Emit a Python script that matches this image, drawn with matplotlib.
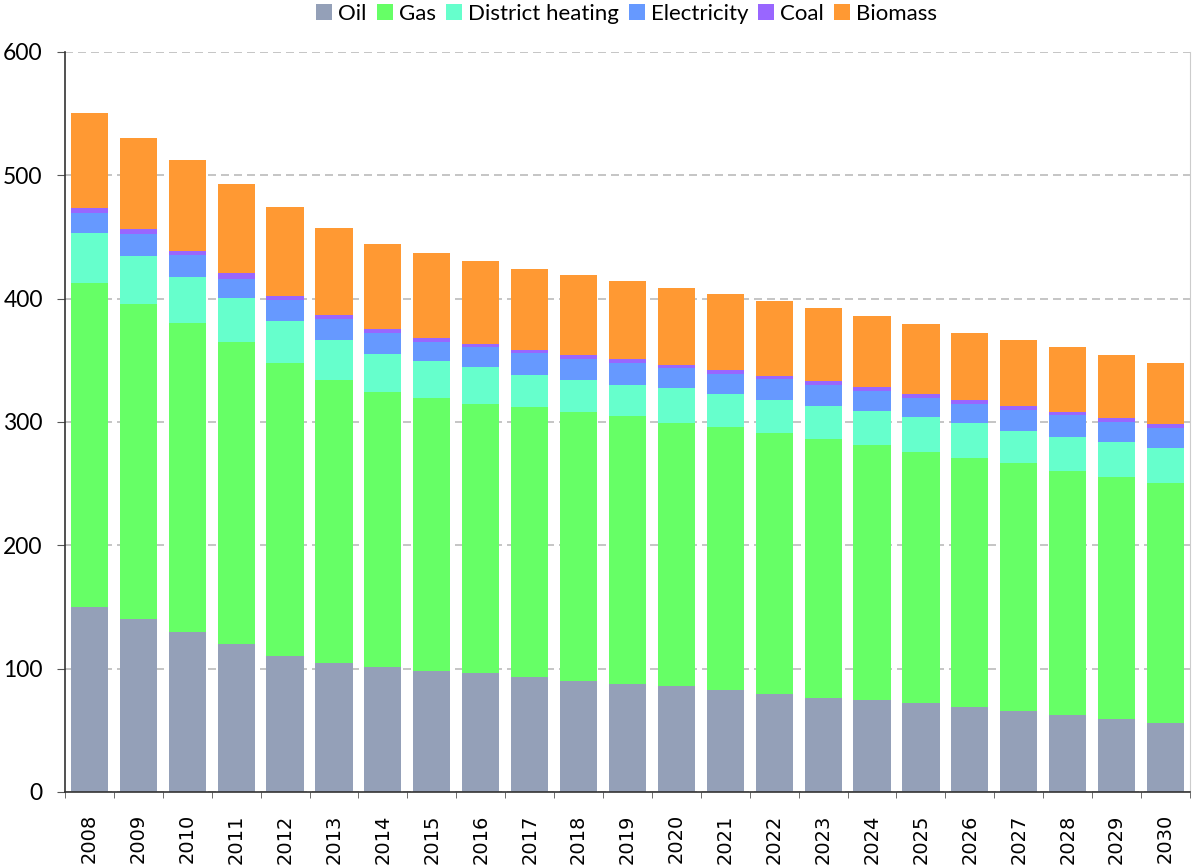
import matplotlib
matplotlib.use("Agg")
import matplotlib.pyplot as plt
import numpy as np

years = list(range(2008, 2031))

oil = [150, 140, 130, 120, 110, 104.5, 101.5, 98, 96.5, 93, 90, 87.5,
       86, 82.5, 79.5, 76, 74.5, 72, 69, 65.5, 62.5, 59, 56]
gas = [262.5, 255.5, 250, 245, 238, 229.5, 223, 221.5, 218, 219, 218, 217.5,
       213, 213.5, 211.5, 210, 207, 203.5, 202, 201.5, 198, 196.5, 194.5]
district_heating = [40.5, 39, 37.5, 35.5, 34, 32.5, 30.5, 30, 30, 26, 26, 25,
                    28.5, 26.5, 27, 27, 27.5, 28.5, 28, 25.5, 27.5, 28.5, 28.5]
electricity = [16.5, 18, 18, 15.5, 17, 17, 17, 15.5, 16.5, 18, 17, 18,
               16.5, 16.5, 17, 17, 16, 15.5, 15.5, 17, 17.5, 16, 16]
coal = [4, 4, 3, 4.5, 3, 3, 3, 3, 2.5, 2.5, 3, 3,
        2.5, 3.5, 2.5, 3, 3.5, 3, 3, 3.5, 2.5, 3, 3.5]
biomass = [77, 73.5, 74, 72.5, 72.5, 71, 69.5, 69, 67, 65.5, 65, 63.5,
           62, 61.5, 60.5, 59.5, 57.5, 57, 55, 53.5, 53, 51.5, 49.5]

series = [
    ("Oil", oil, "#94a0b8"),
    ("Gas", gas, "#66ff66"),
    ("District heating", district_heating, "#66ffcc"),
    ("Electricity", electricity, "#6699ff"),
    ("Coal", coal, "#9966ff"),
    ("Biomass", biomass, "#ff9933"),
]

LABEL_FONT = ["Lato", "DejaVu Sans"]

fig = plt.figure(figsize=(11.92, 8.66), dpi=100, facecolor="white")
ax = fig.add_axes([0.0545, 0.0855, 0.9438, 0.8545])

x = np.arange(len(years))
bottom = np.zeros(len(years))
for name, vals, color in series:
    ax.bar(x, vals, width=0.76, bottom=bottom, color=color, label=name,
           linewidth=0, zorder=2)
    bottom += np.array(vals)

ax.set_xlim(-0.5, len(years) - 0.5)
ax.set_ylim(0, 600)
ax.set_yticks(range(0, 601, 100))
ax.set_yticklabels([str(v) for v in range(0, 601, 100)],
                   fontsize=16.5, family=LABEL_FONT)
ax.yaxis.grid(True, color="#bbbbbb", linestyle=(0, (4.8, 3)), linewidth=1.2, zorder=0)
ax.set_axisbelow(True)

ax.set_xticks(x)
ax.set_xticklabels([str(y) for y in years], rotation=90, fontsize=14)
ax.set_xticks(np.arange(-0.5, len(years)), minor=True)
ax.tick_params(axis="x", which="major", length=0, pad=16)
ax.tick_params(axis="x", which="minor", length=4.5, color="#555555")
ax.tick_params(axis="y", length=6, pad=10, color="#555555")

for side in ("left", "bottom"):
    ax.spines[side].set_color("#333333")
    ax.spines[side].set_linewidth(1.2)
ax.spines["top"].set_visible(False)
ax.spines["right"].set_color("#cccccc")

fig.legend(loc="center", bbox_to_anchor=(0.5256, 1 - 14 / 866), ncol=6,
           frameon=False, prop={"family": LABEL_FONT, "size": 16},
           handlelength=0.72, handleheight=0.7, handletextpad=0.27,
           columnspacing=0.45, borderpad=0, borderaxespad=0)

fig.savefig("out.png", dpi=100, facecolor="white")
